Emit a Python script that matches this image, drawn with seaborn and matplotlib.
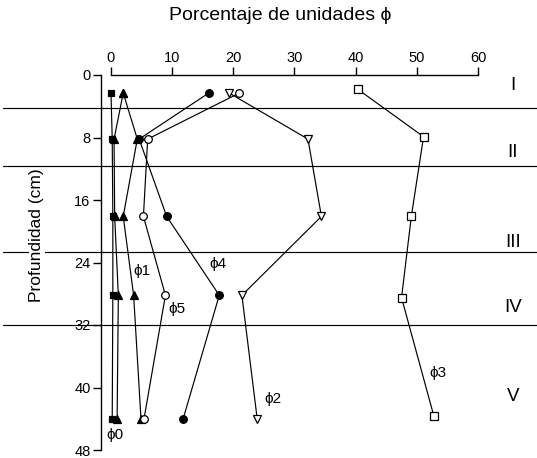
import matplotlib
matplotlib.use("Agg")
import matplotlib.pyplot as plt
import seaborn as sns
import pandas as pd

# Sampling depths (cm) of the five levels
depth = [2.3, 8.2, 18.1, 28.2, 44.0]
depth_phi3 = [1.8, 7.9, 18.1, 28.5, 43.7]

# Percentage of each phi unit at each depth
phi0 = [0.0, 0.2, 0.3, 0.3, 0.2]
phi0_b = [2.0, 0.5, 0.6, 1.2, 1.0]
phi1 = [2.0, 4.3, 2.0, 3.7, 4.9]
phi2 = [19.3, 32.2, 34.4, 21.4, 23.9]
phi3 = [40.3, 51.1, 49.1, 47.5, 52.8]
phi4 = [16.0, 4.6, 9.1, 17.7, 11.8]
phi5 = [21.0, 6.0, 5.3, 8.9, 5.4]

# Stratigraphic layers
layer_bounds = [4.2, 11.6, 22.7, 32.0]
layer_names = ["I", "II", "III", "IV", "V"]
layer_label_depth = [1.3, 9.9, 21.4, 29.8, 41.2]

x_ticks = [0, 10, 20, 30, 40, 50, 60]
y_ticks = [0, 8, 16, 24, 32, 40, 48]

sns.set_theme(style="white")
plt.rcParams["font.family"] = ["Liberation Sans", "DejaVu Sans"]

W, H = 537, 458
fig = plt.figure(figsize=(W / 100, H / 100), dpi=100)
ax = fig.add_axes([3 / W, 3 / H, 534 / W, 385 / H])

sx = 367 / 60.0   # px per percent
sy = 375 / 48.0   # px per cm
ax.set_xlim((3 - 111) / sx, (537 - 111) / sx)
ax.set_ylim((455 - 75) / sy, (70 - 75) / sy)

# layer boundaries across the full width
for b in layer_bounds:
    ax.axhline(b, color="black", lw=0.85, zorder=1)

series = [
    (phi0, depth, "s", "black", 5.0),
    (phi0_b, depth, "^", "black", 5.5),
    (phi1, depth, "^", "black", 5.5),
    (phi4, depth, "o", "black", 5.5),
    (phi5, depth, "o", "white", 5.5),
    (phi2, depth, "v", "white", 6.0),
    (phi3, depth_phi3, "s", "white", 5.5),
]
for i, (vals, d, mk, face, ms) in enumerate(series):
    df = pd.DataFrame({"pct": vals, "depth": d})
    sns.lineplot(data=df, x="pct", y="depth", orient="y", estimator=None,
                 sort=True, color="black", lw=0.85, marker=mk, markersize=ms,
                 markerfacecolor=face, markeredgecolor="black",
                 markeredgewidth=0.9, ax=ax, zorder=3 + i)

# curve labels
labels = [("ϕ0", 0.7, 46.1), ("ϕ1", 5.0, 25.1), ("ϕ4", 17.5, 24.2),
          ("ϕ5", 10.7, 29.9), ("ϕ2", 26.5, 41.5), ("ϕ3", 53.5, 38.2)]
for t, x, y in labels:
    ax.text(x, y, t, fontsize=11, ha="center", va="center", color="black")

for name, y in zip(layer_names, layer_label_depth):
    ax.text(65.7, y, name, fontsize=13.5, ha="center", va="center", color="black")

# axes styling
ax.spines["bottom"].set_visible(False)
ax.spines["right"].set_visible(False)
ax.spines["top"].set_position(("data", 0))
ax.spines["top"].set_bounds(0, 60)
ax.spines["left"].set_position(("data", (101 - 111) / sx))
ax.spines["left"].set_bounds(0, 48)
for s in ("top", "left"):
    ax.spines[s].set_color("black")
    ax.spines[s].set_linewidth(1.0)

ax.xaxis.tick_top()
ax.set_xticks(x_ticks)
ax.set_yticks(y_ticks)
ax.tick_params(axis="x", direction="out", length=5.5, width=1.0, pad=2,
               labelsize=10.5, colors="black", top=True, bottom=False)
ax.tick_params(axis="y", direction="out", length=5.5, width=1.0, pad=2,
               labelsize=10.5, colors="black", left=True)
ax.set_xlabel("")
ax.set_ylabel("")
ax.grid(False)

ax.text((37 - 111) / sx, (235 - 75) / sy, "Profundidad (cm)", rotation=90,
        fontsize=12.5, ha="center", va="center", color="black",
        bbox=dict(facecolor="white", edgecolor="none", pad=0.3), zorder=10)

fig.text(280 / W, 1 - 15 / H, "Porcentaje de unidades ϕ", fontsize=14,
         ha="center", va="center", color="black")

fig.savefig("out.png", dpi=100, facecolor="white")
